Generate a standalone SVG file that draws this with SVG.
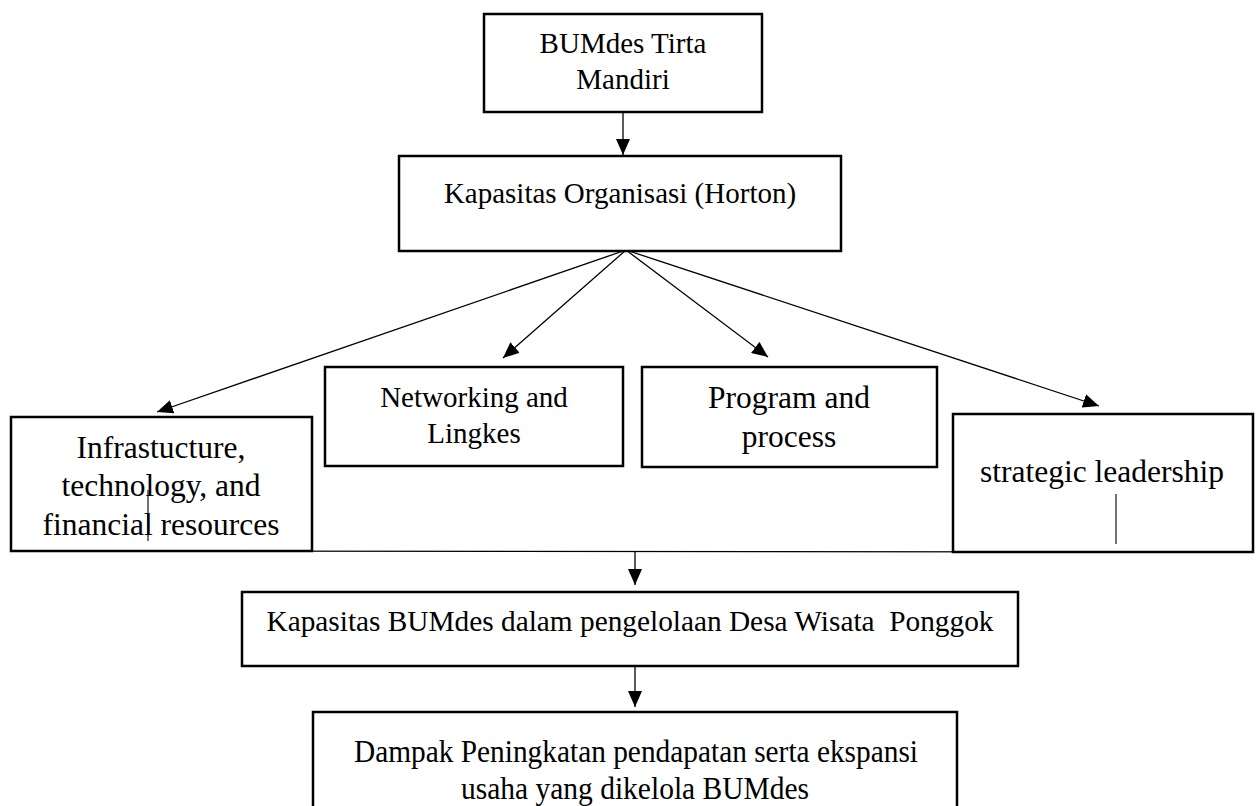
<svg xmlns="http://www.w3.org/2000/svg" width="1256" height="806" viewBox="0 0 1256 806">
  <style>
    .box { fill: #ffffff; stroke: #000000; stroke-width: 2.5; }
    .lbl { font-family: "Liberation Serif", "Times New Roman", serif; font-size: 29px; fill: #000000; text-anchor: middle; }
    .big { font-size: 31.5px; }
    .cond { font-size: 30.5px; }
    .con { fill: none; stroke: #000000; stroke-width: 1.3; }
    .thin { fill: none; stroke: #000000; stroke-width: 1.1; }
  </style>
  <defs>
    <marker id="ah" viewBox="0 0 16 14" refX="16" refY="7" markerWidth="16" markerHeight="14" markerUnits="userSpaceOnUse" orient="auto">
      <path d="M0,0 L16,7 L0,14 z" fill="#000000"/>
    </marker>
  </defs>

  <rect width="1256" height="806" fill="#ffffff"/>

  <g id="connectors">
    <line class="con" x1="623" y1="112" x2="623" y2="155" marker-end="url(#ah)"/>
    <line class="con" x1="626" y1="250" x2="157" y2="412" marker-end="url(#ah)"/>
    <line class="con" x1="626" y1="250" x2="503" y2="358" marker-end="url(#ah)"/>
    <line class="con" x1="626" y1="250" x2="768" y2="357" marker-end="url(#ah)"/>
    <line class="con" x1="626" y1="250" x2="1099" y2="406" marker-end="url(#ah)"/>
    <line class="thin" x1="148" y1="551" x2="1116" y2="552"/>
    <line class="thin" x1="148" y1="490" x2="148" y2="551"/>
    <line class="thin" x1="1116" y1="494" x2="1116" y2="552"/>
    <line class="con" x1="635" y1="551" x2="635" y2="585" marker-end="url(#ah)"/>
    <line class="con" x1="635" y1="666" x2="635" y2="707" marker-end="url(#ah)"/>
  </g>

  <g id="node-bumdes">
    <rect class="box" x="484" y="14" width="278" height="98"/>
    <text class="lbl" x="623" y="53">BUMdes Tirta</text>
    <text class="lbl" x="623" y="89">Mandiri</text>
  </g>

  <g id="node-kapasitas-organisasi">
    <rect class="box" x="399" y="156" width="442" height="95"/>
    <text class="lbl" x="620" y="203">Kapasitas Organisasi (Horton)</text>
  </g>

  <g id="node-infrastructure">
    <path class="box" d="M11,417 H312 V551 H11 Z"/>
    <text class="lbl big" x="161" y="458">Infrastucture,</text>
    <text class="lbl big" x="161" y="496">technology, and</text>
    <text class="lbl big" x="161" y="535">financial resources</text>
    <line class="thin" x1="148" y1="490" x2="148" y2="541"/>
  </g>

  <g id="node-networking">
    <rect class="box" x="325" y="367" width="298" height="99"/>
    <text class="lbl" x="474" y="407">Networking and</text>
    <text class="lbl" x="474" y="443">Lingkes</text>
  </g>

  <g id="node-program">
    <rect class="box" x="642" y="367" width="295" height="100"/>
    <text class="lbl big" x="789" y="408">Program and</text>
    <text class="lbl big" x="789" y="447">process</text>
  </g>

  <g id="node-strategic">
    <rect class="box" x="953" y="414" width="300" height="138"/>
    <text class="lbl big" x="1102" y="482">strategic leadership</text>
    <line class="thin" x1="1116" y1="494" x2="1116" y2="544"/>
  </g>

  <g id="node-kapasitas-bumdes">
    <rect class="box" x="242" y="592" width="776" height="74"/>
    <text class="lbl" x="630" y="631" font-size="30" textLength="727" lengthAdjust="spacingAndGlyphs" xml:space="preserve">Kapasitas BUMdes dalam pengelolaan Desa Wisata  Ponggok</text>
  </g>

  <g id="node-dampak">
    <rect class="box" x="313" y="712" width="644" height="110"/>
    <text class="lbl cond" x="636" y="762" textLength="564" lengthAdjust="spacingAndGlyphs">Dampak Peningkatan pendapatan serta ekspansi</text>
    <text class="lbl cond" x="635" y="799" textLength="348" lengthAdjust="spacingAndGlyphs">usaha yang dikelola BUMdes</text>
  </g>
</svg>
